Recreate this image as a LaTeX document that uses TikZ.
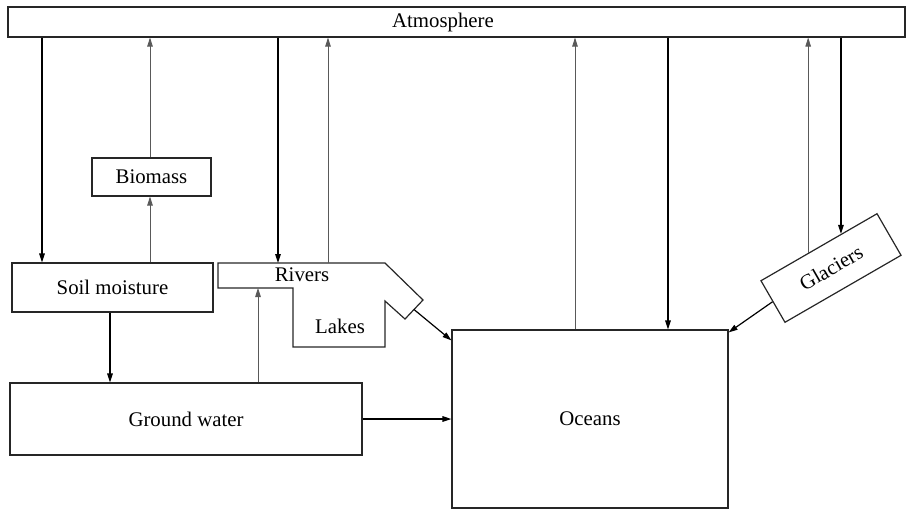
\documentclass[tikz,border=0pt]{standalone}
\usepackage{fontspec}
\setmainfont{Liberation Serif}
\usetikzlibrary{arrows.meta,calc}

\begin{document}
\begin{tikzpicture}[x=0.5pt, y=-0.5pt,
        font=\fontsize{10.4}{12}\selectfont,
        store/.style={draw=black!85, line width=0.6pt, inner sep=0pt, anchor=center},
        down/.style={-{Triangle[length=4.5pt,width=2.8pt]}, line width=0.6pt},
        up/.style={-{Triangle[length=4.5pt,width=2.8pt]}, line width=0.4pt, black!65}]
    \useasboundingbox (0,0) rectangle (910,511);

    \node[store, minimum width=448.5pt, minimum height=15pt] (atm) at (456.5,22) {\kern-13.5pt Atmosphere};
    \node[store, minimum width=59.5pt, minimum height=19pt] (biom) at (151.5,177) {Biomass};
    \node[store, minimum width=100.5pt, minimum height=24.5pt] (soil) at (112.5,287.5) {Soil moisture};
    \node[store, minimum width=176pt, minimum height=36pt] (ground) at (186,419) {Ground water};
    \node[store, minimum width=138pt, minimum height=89pt] (oceans) at (590,419) {Oceans};
    \node[store, rotate=30, minimum width=67pt, minimum height=24pt] (glac) at (831,268) {Glaciers};

    % rivers and lakes
    \coordinate (r1) at (218,263);
    \coordinate (r2) at (385,263);
    \coordinate (r3) at (423,300);
    \coordinate (r4) at (405,319);
    \coordinate (r5) at (385,301);
    \coordinate (r6) at (385,347);
    \coordinate (r7) at (293,347);
    \coordinate (r8) at (293,288);
    \coordinate (r9) at (218,288);
    \draw[black!85, line width=0.6pt] (r1) -- (r2) -- (r3) -- (r4) -- (r5) -- (r6) -- (r7) -- (r8) -- (r9) -- cycle;
    \node (rivers) at (302,275) {Rivers};
    \node (lakes) at (340,326) {Lakes};
    \coordinate (rl) at ($(r3)!0.5!(r4)$);

    \coordinate (g1) at ($(glac.north west)!0.41!(glac.north east)$);
    \coordinate (g2) at ($(glac.north west)!0.69!(glac.north east)$);

    \draw[down] (atm.south -| 42,0) -- (soil.north -| 42,0);
    \draw[up] (soil.north -| 150,0) -- (biom.south -| 150,0);
    \draw[up] (biom.north -| 150,0) -- (atm.south -| 150,0);
    \draw[down] (atm.south -| 278,0) -- (r1 -| 278,0);
    \draw[up] (r1 -| 328,0) -- (atm.south -| 328,0);
    \draw[up] (oceans.north -| 575,0) -- (atm.south -| 575,0);
    \draw[down] (atm.south -| 668,0) -- (oceans.north -| 668,0);
    \draw[up] (g1) -- (atm.south -| g1);
    \draw[down] (atm.south -| g2) -- (g2);

    \draw[down] (soil.south -| 110,0) -- (ground.north -| 110,0);
    \draw[up] (ground.north -| 258,0) -- (r9 -| 258,0);
    \draw[down] (ground.east) -- (oceans.west);
    \draw[down] (rl) -- ([yshift=-5.5pt]oceans.north west);
    \draw[down] (glac.west) -- ([yshift=-1.5pt]oceans.north east);
\end{tikzpicture}
\end{document}
